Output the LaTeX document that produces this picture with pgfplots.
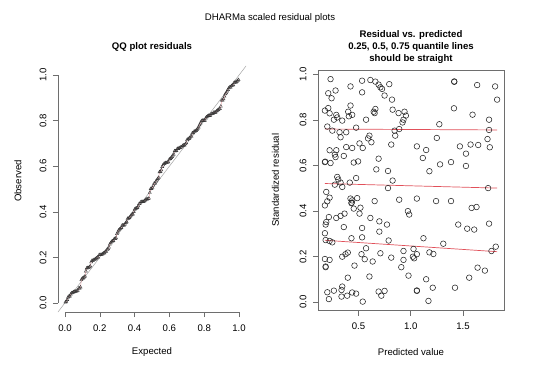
\documentclass[border=0pt]{standalone}
\usepackage{pgfplots}
\pgfplotsset{compat=1.18}
\usepackage{pgfplotstable}
\usepackage{fontspec}
\setmainfont{Liberation Sans}

% sorted scaled residuals (observed quantiles)
\pgfplotstableread{
obs
0.003
0.006
0.014
0.025
0.029
0.029
0.038
0.043
0.044
0.047
0.050
0.050
0.051
0.052
0.054
0.064
0.064
0.069
0.101
0.108
0.108
0.113
0.117
0.139
0.152
0.154
0.154
0.157
0.161
0.179
0.186
0.186
0.189
0.190
0.193
0.196
0.200
0.200
0.211
0.211
0.211
0.212
0.215
0.218
0.219
0.225
0.225
0.234
0.237
0.244
0.257
0.263
0.269
0.271
0.273
0.281
0.281
0.285
0.303
0.310
0.319
0.323
0.326
0.330
0.341
0.341
0.341
0.345
0.352
0.355
0.370
0.370
0.374
0.379
0.385
0.389
0.389
0.400
0.411
0.414
0.415
0.418
0.425
0.435
0.437
0.443
0.444
0.444
0.444
0.447
0.450
0.455
0.455
0.457
0.459
0.484
0.501
0.501
0.506
0.516
0.525
0.525
0.534
0.539
0.545
0.550
0.575
0.576
0.583
0.598
0.605
0.611
0.613
0.615
0.615
0.617
0.618
0.630
0.633
0.637
0.642
0.648
0.652
0.667
0.667
0.668
0.677
0.677
0.680
0.681
0.684
0.684
0.690
0.692
0.692
0.697
0.702
0.716
0.719
0.721
0.724
0.731
0.731
0.746
0.746
0.753
0.753
0.756
0.760
0.766
0.771
0.781
0.789
0.797
0.801
0.801
0.801
0.801
0.811
0.816
0.819
0.822
0.822
0.823
0.829
0.830
0.830
0.836
0.836
0.836
0.841
0.845
0.848
0.851
0.852
0.863
0.889
0.889
0.895
0.907
0.917
0.921
0.929
0.936
0.943
0.947
0.947
0.953
0.955
0.957
0.967
0.968
0.969
0.972
0.975
0.979
}\qqdata

% predicted value vs scaled residual
\pgfplotstableread{
x y
0.233 0.979
0.211 0.917
0.281 0.929
0.243 0.895
0.424 0.947
0.535 0.972
0.614 0.975
0.662 0.968
0.693 0.955
0.710 0.943
0.726 0.936
0.795 0.957
0.535 0.921
0.750 0.907
0.821 0.889
0.211 0.852
0.179 0.841
0.224 0.829
0.288 0.822
0.297 0.811
0.265 0.801
0.345 0.797
0.424 0.863
0.402 0.836
0.440 0.822
0.408 0.816
0.662 0.848
0.646 0.836
0.655 0.830
0.827 0.845
0.884 0.830
0.941 0.836
0.954 0.819
0.931 0.801
0.922 0.789
0.573 0.801
0.202 0.771
0.250 0.753
0.319 0.746
0.383 0.746
0.478 0.766
0.329 0.724
0.605 0.731
0.592 0.719
0.624 0.702
0.510 0.697
0.846 0.753
0.890 0.760
0.852 0.731
0.814 0.692
1.417 0.969
1.417 0.967
1.636 0.953
1.808 0.947
1.827 0.889
1.414 0.851
1.592 0.823
1.750 0.801
1.274 0.781
1.750 0.756
1.250 0.721
1.735 0.716
1.059 0.684
1.471 0.684
1.573 0.692
1.646 0.690
1.757 0.680
0.224 0.667
0.288 0.667
0.274 0.648
0.383 0.681
0.440 0.677
0.541 0.677
0.179 0.615
0.182 0.617
0.233 0.611
0.281 0.637
0.360 0.642
0.455 0.613
0.497 0.618
0.693 0.630
0.671 0.583
0.783 0.576
0.297 0.550
0.307 0.539
0.329 0.525
0.274 0.516
0.417 0.525
0.478 0.545
0.345 0.506
0.827 0.534
0.783 0.501
0.192 0.484
0.224 0.459
0.202 0.443
0.179 0.425
0.424 0.455
0.440 0.447
0.488 0.457
0.433 0.435
0.435 0.437
0.455 0.411
0.519 0.415
0.655 0.444
0.890 0.450
0.510 0.389
0.973 0.400
0.986 0.385
0.217 0.374
0.288 0.370
0.329 0.379
0.367 0.389
0.192 0.352
0.186 0.341
0.360 0.330
0.535 0.326
0.614 0.370
0.700 0.355
0.773 0.341
1.148 0.668
1.529 0.652
1.116 0.633
1.281 0.605
1.386 0.615
1.529 0.598
1.179 0.575
1.741 0.501
1.059 0.455
1.243 0.444
1.386 0.444
1.583 0.414
1.630 0.418
1.455 0.341
1.541 0.323
1.608 0.319
1.750 0.345
0.179 0.303
0.224 0.269
0.186 0.273
0.250 0.263
0.433 0.281
0.535 0.285
0.700 0.310
0.789 0.271
0.573 0.237
0.931 0.225
0.179 0.190
0.224 0.186
0.186 0.154
0.186 0.157
0.345 0.200
0.376 0.211
0.398 0.218
0.529 0.211
0.560 0.189
0.636 0.179
0.710 0.215
0.814 0.196
0.931 0.186
0.910 0.154
0.979 0.117
0.462 0.161
0.398 0.108
0.605 0.113
0.345 0.069
0.338 0.054
0.265 0.051
0.202 0.044
0.217 0.014
0.338 0.025
0.392 0.029
0.440 0.043
0.478 0.038
0.541 0.003
0.693 0.047
0.750 0.050
0.719 0.029
1.122 0.281
1.312 0.257
1.027 0.234
1.059 0.211
1.021 0.200
1.033 0.193
1.179 0.219
1.217 0.212
1.773 0.225
1.814 0.244
1.148 0.101
1.059 0.050
1.059 0.052
1.211 0.064
1.424 0.064
1.560 0.108
1.640 0.152
1.710 0.139
1.170 0.006
}\resdata

\definecolor{qred}{RGB}{225,80,90}
\definecolor{axgray}{RGB}{110,110,110}

\begin{document}
\begin{tikzpicture}
\useasboundingbox (0pt,0pt) rectangle (540pt,370pt);
\fill[white] (0pt,0pt) rectangle (540pt,370pt);

\pgfplotsset{
  every axis/.append style={
    font=\fontsize{9.6}{11}\selectfont,
    scale only axis,
    tick align=outside,
    major tick length=5pt,
    every tick/.style={axgray, line width=0.5pt},
    xtick pos=left, ytick pos=left,
    yticklabel style={rotate=90, anchor=south},
    xticklabel shift=4pt,
    yticklabel shift=3pt,
    /pgf/number format/assume math mode=true,
  }
}

% ---------- QQ plot ----------
\begin{axis}[
  at={(58pt,58pt)}, anchor=south west,
  width=188pt, height=246pt,
  xmin=-0.04, xmax=1.04, ymin=-0.04, ymax=1.04,
  axis line style={draw=none},
  clip=false,
  xtick={0,0.2,0.4,0.6,0.8,1},
  xticklabels={0.0,0.2,0.4,0.6,0.8,1.0},
  ytick={0,0.2,0.4,0.6,0.8,1},
  yticklabels={0.0,0.2,0.4,0.6,0.8,1.0},
]
\draw[axgray, line width=0.5pt] (axis cs:0,-0.04) -- (axis cs:1,-0.04);
\draw[axgray, line width=0.5pt] (axis cs:-0.04,0) -- (axis cs:-0.04,1);
\addplot[gray!70, line width=0.5pt] coordinates {(-0.04,-0.04) (1.04,1.04)};
\addplot[only marks, mark=triangle, mark size=1.8pt, black!80, mark options={line width=0.4pt}]
  table[x expr={(\coordindex+0.5)/196}, y=obs] {\qqdata};
\addplot[qred, opacity=0.5, line width=0.5pt]
  table[x expr={(\coordindex+0.5)/196}, y=obs] {\qqdata};
\end{axis}

% ---------- Residual vs predicted ----------
\begin{axis}[
  at={(318pt,59.5pt)}, anchor=south west,
  width=186pt, height=240.5pt,
  xmin=0.113, xmax=1.893, ymin=-0.036, ymax=1.019,
  axis line style={axgray, line width=0.5pt},
  xtick={0.5,1,1.5},
  xticklabels={0.5,1.0,1.5},
  ytick={0,0.2,0.4,0.6,0.8,1},
  yticklabels={0.0,0.2,0.4,0.6,0.8,1.0},
]
\addplot[only marks, mark=o, mark size=2.8pt, black!85, mark options={line width=0.55pt}]
  table[x=x, y=y] {\resdata};
\addplot[qred, line width=0.7pt] coordinates {(0.179,0.760) (1.827,0.756)};
\addplot[qred, line width=0.7pt] coordinates {(0.179,0.521) (1.827,0.501)};
\addplot[qred, line width=0.7pt] coordinates {(0.179,0.272) (1.827,0.222)};
\end{axis}

% ---------- titles and labels ----------
\begin{scope}[every node/.style={font=\fontsize{9.6}{12}\selectfont, inner sep=0pt}]
\node at (270pt,351.7pt) {DHARMa scaled residual plots};
\node[font=\fontsize{9.6}{12}\selectfont\bfseries] at (152pt,323.3pt) {QQ plot residuals};
\node[font=\fontsize{9.6}{12}\selectfont\bfseries, align=center] at (411pt,322.7pt)
  {Residual vs. predicted\\0.25, 0.5, 0.75 quantile lines\\should be straight};
\node at (152pt,18.3pt) {Expected};
\node at (411pt,18.3pt) {Predicted value};
\node[rotate=90] at (18pt,189pt) {Observed};
\node[rotate=90] at (275.5pt,190pt) {Standardized residual};
\end{scope}
\end{tikzpicture}
\end{document}
